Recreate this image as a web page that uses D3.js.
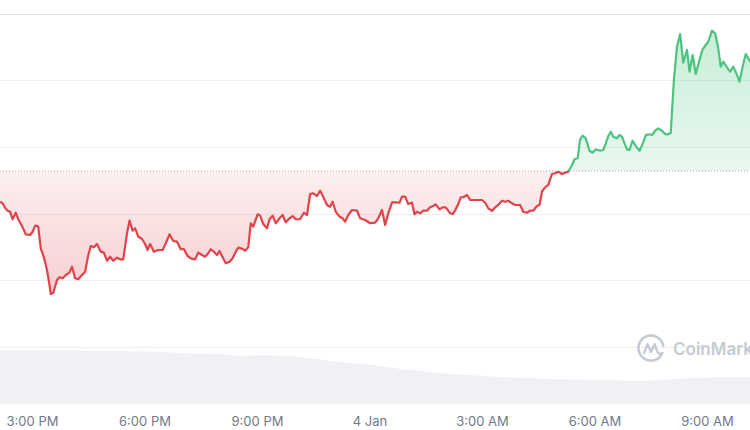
<!DOCTYPE html>
<html>
<head>
<meta charset="utf-8">
<script src="https://cdn.jsdelivr.net/npm/d3@7"></script>
<style>
  html, body { margin: 0; padding: 0; background: #ffffff; }
  svg { display: block; }
</style>
</head>
<body>
<svg id="chart" width="750" height="430"></svg>
<script>
// ---------------- DATA ----------------
// Minutes after 3 Jan 14:00
const priceMinutes = [9,13,17,21,25,29,34,38,44,50,57,61,65,70,74,79,84,88,90,94,100,104,109,114,120,124,129,134,140,145,150,154,159,164,170,175,180,185,190,196,201,206,212,216,221,225,230,236,241,245,249,255,262,269,274,280,286,292,298,303,309,314,321,326,332,337,342,346,351,356,360,365,370,376,381,386,390,396,401,406,410,414,421,425,430,436,440,445,450,456,461,466,472,477,482,489,495,500,505,510,516,521,526,532,537,541,546,552,557,561,566,572,580,585,593,601,609,614,620,625,630,636,642,648,652,657,662,668,672,676,681,686,692,697,702,706,712,717,722,729,733,738,742,746,750,756,761,769,780,785,790,796,801,806,812,817,822,828,833,841,846,852,857,862,868,872,876,881,886,892,897,902,908,913,918,924,928,933,937,941,946,952,957,962,969,974,978,982,986,990,996,1000,1004,1007,1012,1016,1021,1026,1032,1037,1042,1048,1052,1057,1062,1068,1073,1078,1082,1087,1092,1097,1102,1108,1112,1117,1122,1128,1133,1138,1142,1148,1153,1158,1162,1166,1172,1177,1182,1188,1192,1197,1202,1209];
const priceValues = [121.77,121.53,120.83,120.42,120.27,119.13,120.12,119.13,118.12,116.87,116.77,117.26,118.17,118.02,114.77,113.41,111.50,109.25,107.89,108.09,110.00,110.41,110.26,110.75,111.10,112.00,110.26,110.11,110.75,111.25,113.76,115.11,114.92,115.41,114.26,114.11,112.90,113.50,112.90,113.35,113.11,113.11,117.02,118.92,117.41,117.77,116.51,116.17,115.41,114.51,115.41,114.26,114.51,114.51,115.52,116.87,115.86,115.76,114.62,114.66,113.61,113.26,113.11,114.11,113.76,113.50,114.02,114.62,114.26,113.76,114.36,113.41,112.51,112.75,113.26,114.26,114.86,114.71,114.41,114.92,118.53,118.02,119.88,119.67,118.42,117.77,119.13,119.67,118.53,119.28,119.77,118.68,119.28,119.62,119.13,119.17,120.12,119.77,122.93,123.04,122.63,123.43,122.53,121.28,121.02,121.77,120.27,119.52,119.28,118.77,119.77,120.53,120.42,119.28,119.02,118.53,118.62,119.28,120.53,118.27,120.03,121.68,121.68,121.62,122.53,122.53,121.43,121.62,119.88,120.27,120.03,120.42,120.42,120.93,121.13,121.38,120.63,120.93,120.93,120.03,119.92,120.63,121.43,122.44,122.44,122.78,122.03,122.03,122.03,121.62,120.78,120.38,120.93,121.28,121.92,121.77,121.92,121.53,121.28,121.28,120.27,120.12,120.42,120.42,121.13,121.28,123.28,123.94,124.29,125.94,126.05,126.29,125.94,126.14,126.29,127.29,128.15,128.30,131.16,131.70,131.31,129.44,129.14,129.65,129.44,129.55,130.56,131.65,132.30,131.55,131.31,131.80,131.55,130.80,129.65,129.55,130.95,130.15,129.44,130.45,131.80,131.91,131.80,132.45,132.81,132.45,131.95,131.91,132.15,140.08,145.08,146.99,142.68,144.59,141.32,143.83,140.98,143.08,144.69,145.34,145.83,147.49,147.10,144.84,142.08,142.83,141.98,141.32,142.08,140.83,139.82,142.08,143.98,142.83];
const openPrice = 126.39;

const volumeMinutes = [9,57,105,169,249,297,361,393,425,473,505,537,569,609,649,681,729,809,889,969,1033,1065,1113,1161,1209];
const volumeValues  = [54,54,53.5,53,52.5,51,50,48,49,48,46,43,41,39,35,33,30,27,25,24,23,24,26,27,27];

const gridValues = [100,110,120,130,140,150];
const viewStartMinute = 8.8, viewEndMinute = 1208.8;
const tickHours  = [15,18,21,24,27,30,33];   // hours after 3 Jan 00:00
const tickLabels = ["3:00 PM","6:00 PM","9:00 PM","4 Jan","3:00 AM","6:00 AM","9:00 AM"];

// ---------------- CHART ----------------
const W = 750, H = 430;
const base = new Date(2023, 0, 3, 14, 0, 0);
const toDate = m => new Date(base.getTime() + m * 60000);
const day0 = new Date(2023, 0, 3, 0, 0, 0);

const x = d3.scaleTime().domain([toDate(viewStartMinute), toDate(viewEndMinute)]).range([0, W]);
const y = d3.scaleLinear().domain([100, 150]).range([346.5, 14]);
const yVol = d3.scaleLinear().domain([0, 100]).range([404, 304]);

const svg = d3.select("#chart");
const defs = svg.append("defs");

const prices = priceMinutes.map((m, i) => ({t: toDate(m), v: priceValues[i]}));
const vols = volumeMinutes.map((m, i) => ({t: toDate(m), v: volumeValues[i]}));
const yBase = y(openPrice);

const RED = "#e2434a", GREEN = "#4cc37f";

// gridlines
svg.append("g").selectAll("line").data(gridValues).join("line")
  .attr("x1", 0).attr("x2", W)
  .attr("y1", d => Math.round(y(d)) + 0.5).attr("y2", d => Math.round(y(d)) + 0.5)
  .attr("stroke", d => d === 150 ? "#e3e3e3" : "#efefef")
  .attr("stroke-width", 1);

// volume area
svg.append("path").datum(vols)
  .attr("fill", "#f0f1f5")
  .attr("d", d3.area().x(d => x(d.t)).y0(yVol(0)).y1(d => yVol(d.v)));

// clips
defs.append("clipPath").attr("id", "clipUp").append("rect")
  .attr("x", 0).attr("y", 0).attr("width", W).attr("height", yBase);
defs.append("clipPath").attr("id", "clipDown").append("rect")
  .attr("x", 0).attr("y", yBase).attr("width", W).attr("height", H - yBase);

// gradients
const gRed = defs.append("linearGradient").attr("id", "gRed")
  .attr("gradientUnits", "userSpaceOnUse").attr("x1", 0).attr("x2", 0)
  .attr("y1", yBase).attr("y2", y(d3.min(priceValues)));
gRed.append("stop").attr("offset", 0).attr("stop-color", RED).attr("stop-opacity", 0.08);
gRed.append("stop").attr("offset", 1).attr("stop-color", RED).attr("stop-opacity", 0.26);

const gGreen = defs.append("linearGradient").attr("id", "gGreen")
  .attr("gradientUnits", "userSpaceOnUse").attr("x1", 0).attr("x2", 0)
  .attr("y1", yBase).attr("y2", y(d3.max(priceValues)));
gGreen.append("stop").attr("offset", 0).attr("stop-color", GREEN).attr("stop-opacity", 0.12);
gGreen.append("stop").attr("offset", 1).attr("stop-color", GREEN).attr("stop-opacity", 0.3);

const area = d3.area().x(d => x(d.t)).y0(yBase).y1(d => y(d.v));
const line = d3.line().x(d => x(d.t)).y(d => y(d.v));

svg.append("path").datum(prices).attr("clip-path", "url(#clipDown)")
  .attr("fill", "url(#gRed)").attr("d", area);
svg.append("path").datum(prices).attr("clip-path", "url(#clipUp)")
  .attr("fill", "url(#gGreen)").attr("d", area);

// baseline dotted
svg.append("line")
  .attr("x1", 0).attr("x2", W).attr("y1", yBase).attr("y2", yBase)
  .attr("stroke", "#a7a7a7").attr("stroke-width", 1).attr("stroke-dasharray", "1,2");

// lines
svg.append("path").datum(prices).attr("clip-path", "url(#clipDown)")
  .attr("fill", "none").attr("stroke", RED).attr("stroke-width", 2.2)
  .attr("stroke-linejoin", "round").attr("d", line);
svg.append("path").datum(prices).attr("clip-path", "url(#clipUp)")
  .attr("fill", "none").attr("stroke", GREEN).attr("stroke-width", 2.2)
  .attr("stroke-linejoin", "round").attr("d", line);

// watermark
const wm = svg.append("g").attr("transform", "translate(651,348)");
wm.append("path")
  .attr("d", "M 10.8 6.3 A 12.5 12.5 0 1 1 12.3 -2.2")
  .attr("fill", "none").attr("stroke", "#c6cbd3").attr("stroke-width", 2.6).attr("stroke-linecap", "round");
wm.append("path")
  .attr("d", "M -7 5 L -3.5 -4 L 0 4 L 3.5 -4 L 6.5 4 Q 8.5 7.5 11.5 5")
  .attr("fill", "none").attr("stroke", "#c6cbd3").attr("stroke-width", 2.4)
  .attr("stroke-linecap", "round").attr("stroke-linejoin", "round");
svg.append("text").attr("x", 673).attr("y", 355)
  .attr("font-family", "Inter, 'Open Sans', sans-serif").attr("font-size", 17).attr("font-weight", 600)
  .attr("fill", "#c6cbd3").text("CoinMarketCap");

// x axis
const ticks = tickHours.map(h => new Date(day0.getTime() + h * 3600000));
const axis = d3.axisBottom(x).tickValues(ticks).tickSize(0).tickPadding(0)
  .tickFormat((d, i) => tickLabels[i]);
const ag = svg.append("g").attr("transform", "translate(0,417)").call(axis);
ag.select(".domain").remove();
ag.selectAll("text")
  .attr("dy", "0.71em").attr("y", 0)
  .attr("font-family", "Inter, sans-serif").attr("font-size", 13)
  .attr("fill", "#707a8a");
</script>
</body>
</html>
